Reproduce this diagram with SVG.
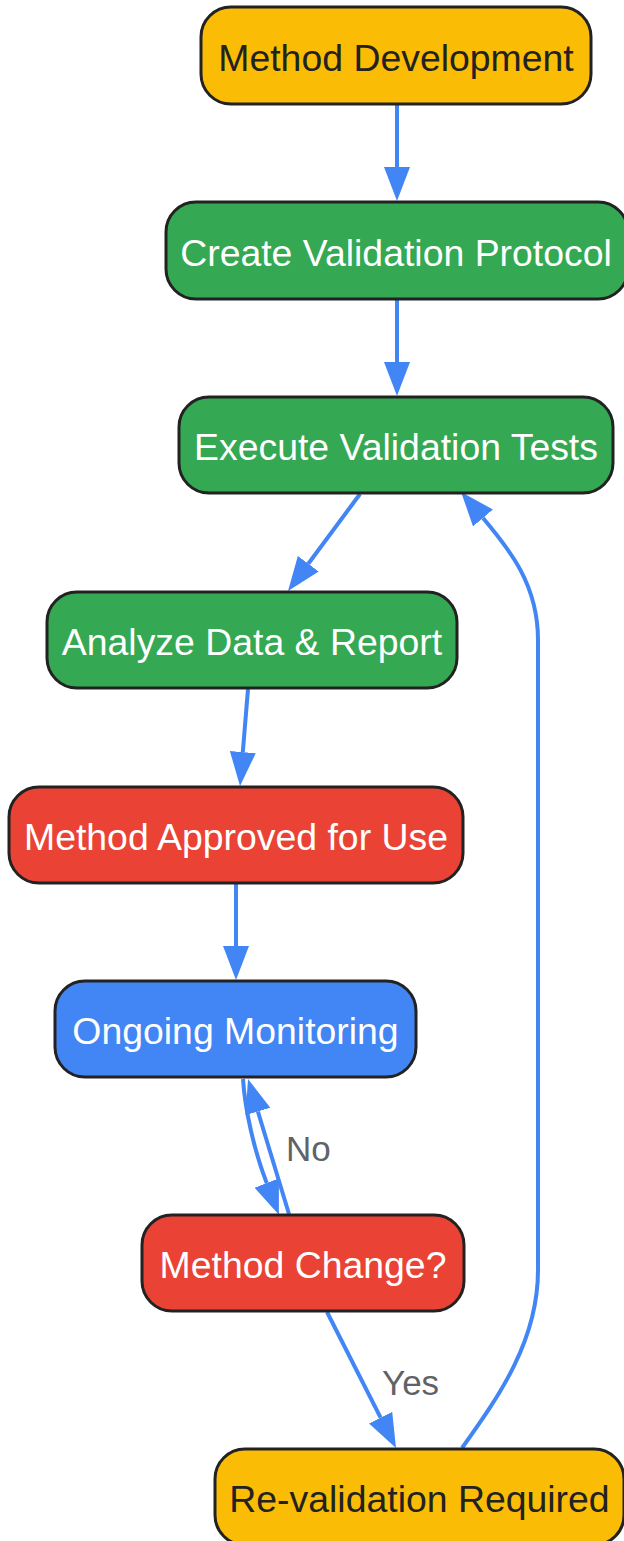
<svg xmlns="http://www.w3.org/2000/svg" width="624" height="1541" viewBox="0 0 624 1541">
<style>
.node rect{stroke:#222222;stroke-width:3}
.node text{font-family:"Liberation Sans",Arial,sans-serif;font-size:37.4px;text-anchor:middle}
.yellow rect{fill:#FBBC05}
.yellow text{fill:#222222}
.green rect{fill:#34A853}
.red rect{fill:#EA4335}
.blue rect{fill:#4285F4}
.green text,.red text,.blue text{fill:#FFFFFF}
.edge{fill:none;stroke:#4285F4;stroke-width:4;marker-end:url(#arrow)}
.elabel{font-family:"Liberation Sans",Arial,sans-serif;font-size:35px;fill:#5F6368}
</style>
<defs>
<marker id="arrow" markerUnits="userSpaceOnUse" markerWidth="36" markerHeight="28" refX="0" refY="13" orient="auto" viewBox="0 0 36 26">
<path d="M0,0 L34,13 L0,26 z" fill="#4285F4"/>
</marker>
</defs>
<rect width="624" height="1541" fill="#FFFFFF"/>
<g id="connectors">
<path class="edge" d="M397,104 L397,167"/>
<path class="edge" d="M397,299 L397,362"/>
<path class="edge" d="M360,494 L308.3,563.7"/>
<path class="edge" d="M248,689 L242.8,752.1"/>
<path class="edge" d="M236,884 L236,946"/>
<path class="edge" d="M243,1079 C245,1110 254,1150 266.7,1183"/>
<path class="edge" d="M289,1214 L257.9,1111.5"/>
<path class="edge" d="M327,1312 L380.6,1417.7"/>
<path class="edge" d="M462,1448 C500,1395 538,1340 538,1270 L538,640 C538,585 510,550 483,518"/>
<text class="elabel" x="286" y="1161">No</text>
<text class="elabel" x="382" y="1395">Yes</text>
</g>
<g id="method-development" class="node yellow">
<rect x="201" y="7" width="390" height="97" rx="30" ry="30"/>
<text x="396" y="71">Method Development</text>
</g>
<g id="create-validation-protocol" class="node green">
<rect x="166" y="202" width="462" height="97" rx="30" ry="30"/>
<text x="396" y="266">Create Validation Protocol</text>
</g>
<g id="execute-validation-tests" class="node green">
<rect x="179" y="397" width="434" height="96" rx="30" ry="30"/>
<text x="396" y="460">Execute Validation Tests</text>
</g>
<g id="analyze-data-report" class="node green">
<rect x="47" y="592" width="410" height="96" rx="30" ry="30"/>
<text x="252" y="655">Analyze Data &amp; Report</text>
</g>
<g id="method-approved" class="node red">
<rect x="9" y="787" width="454" height="96" rx="30" ry="30"/>
<text x="236" y="850">Method Approved for Use</text>
</g>
<g id="ongoing-monitoring" class="node blue">
<rect x="55" y="981" width="361" height="96" rx="30" ry="30"/>
<text x="235.5" y="1044">Ongoing Monitoring</text>
</g>
<g id="method-change" class="node red">
<rect x="142" y="1215" width="322" height="96" rx="30" ry="30"/>
<text x="303" y="1278">Method Change?</text>
</g>
<g id="re-validation-required" class="node yellow">
<rect x="215" y="1449" width="409" height="96" rx="30" ry="30"/>
<text x="419.5" y="1512">Re-validation Required</text>
</g>
</svg>
